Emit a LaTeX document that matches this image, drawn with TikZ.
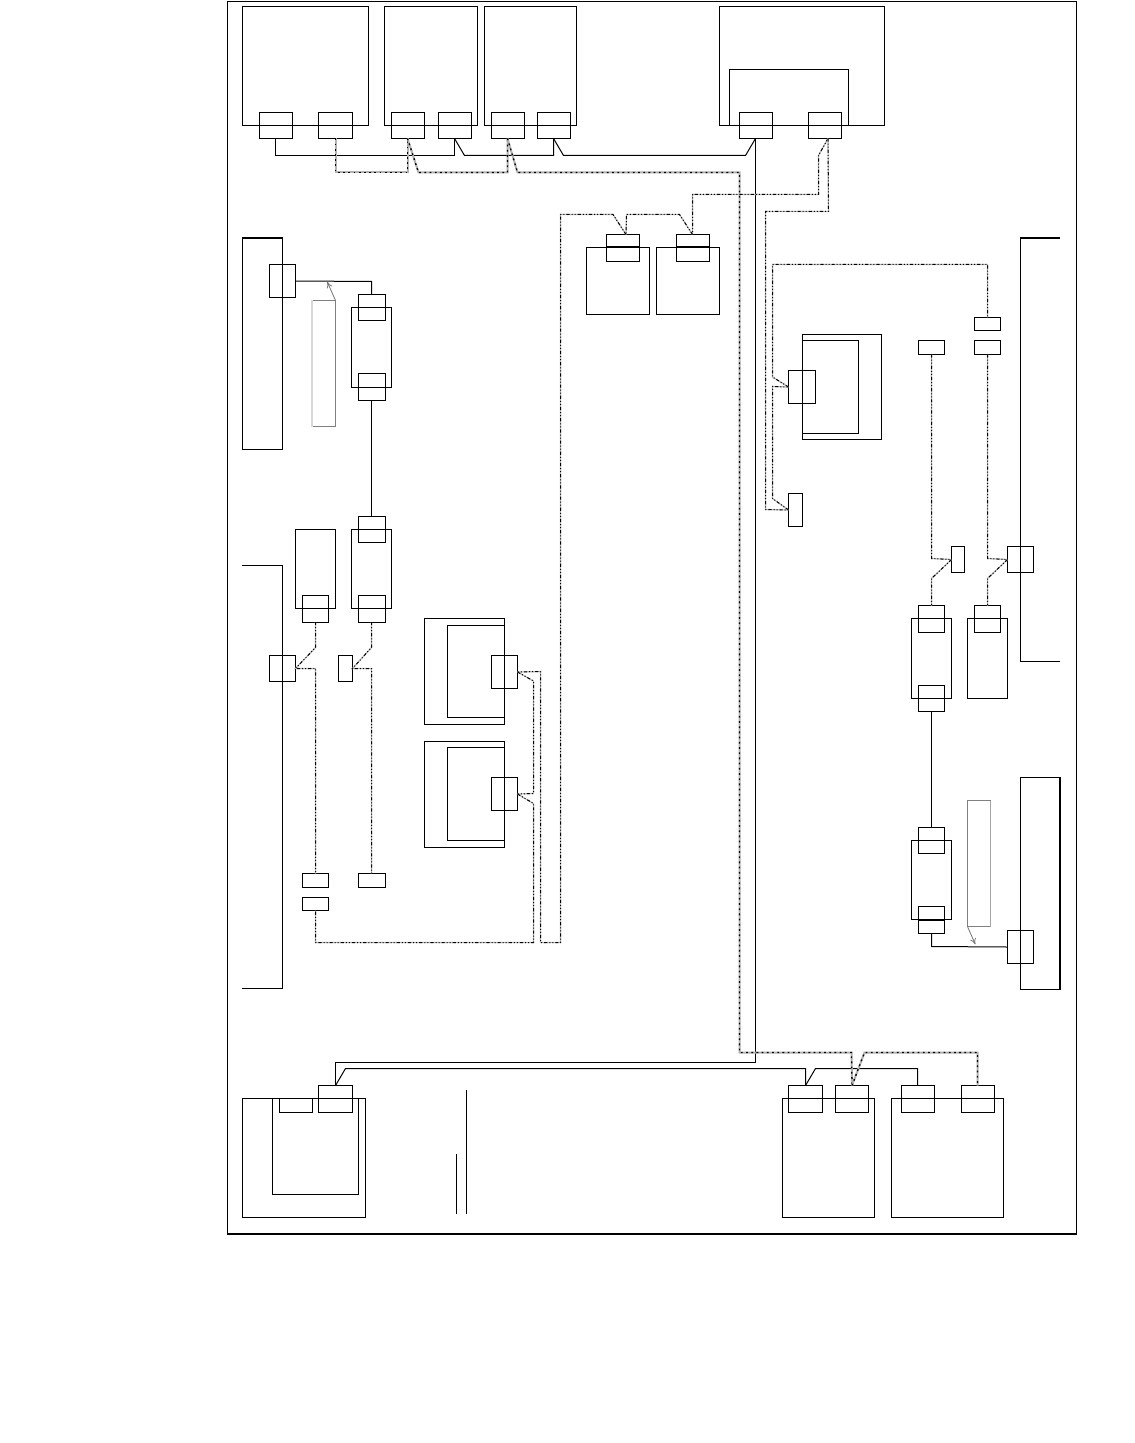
\documentclass[tikz,border=0pt]{standalone}
\usetikzlibrary{arrows.meta,calc}
\tikzset{
  x=0.5pt,y=-0.5pt,
  box/.style={draw=black,line width=0.5pt,inner sep=0pt,outer sep=0pt,anchor=center},
  graybox/.style={draw=black!50,line width=0.5pt,inner sep=0pt,outer sep=0pt,anchor=center},
  shell/.style={draw=black,line width=0.5pt,line join=miter},
  heavyedge/.style={draw=black,line width=1pt},
  bus/.style={draw=black,line width=0.5pt,line join=miter},
  busdash/.style={preaction={draw=black!30,line width=1pt,solid},draw=black,line width=0.65pt,dash pattern=on 0.9pt off 1.7pt},
  ctrl/.style={preaction={draw=black!28,line width=0.6pt,solid},draw=black,line width=0.5pt,dash pattern=on 1.6pt off 1pt on 0.5pt off 1pt on 0.5pt off 1pt},
  note/.style={draw=black!55,line width=0.4pt,-{To[length=3pt,width=3pt]}},
  back/.style={xshift=-0.25pt},
  tap/.style={xshift=1.5pt}
}
% name, x1, y1, x2, y2 in reference pixels
\newcommand{\bx}[5]{\node[box,minimum width={(#4-#2)*0.5pt},minimum height={(#5-#3)*0.5pt}] (#1) at ({(#2+#4)/2},{(#3+#5)/2}) {};}
\newcommand{\gbx}[5]{\node[graybox,minimum width={(#4-#2)*0.5pt},minimum height={(#5-#3)*0.5pt}] (#1) at ({(#2+#4)/2},{(#3+#5)/2}) {};}
\begin{document}
\begin{tikzpicture}
\useasboundingbox (0,0) rectangle (1134,1443);
\fill[white] (0,0) rectangle (1134,1443);
% frame
\bx{frame}{227.5}{1.5}{1076.5}{1234}
\draw[heavyedge] (frame.south west) -- (frame.south east);
% top units
\bx{A}{242.5}{6.5}{368.5}{125.5}
\bx{Aa}{259.5}{112.5}{292.5}{138.5}
\bx{Ab}{318.5}{112.5}{352.5}{138.5}
\bx{B}{384.5}{6.5}{477.5}{125.5}
\bx{Ba}{391.5}{112.5}{424.5}{138.5}
\bx{Bb}{438.5}{112.5}{471.5}{138.5}
\bx{C}{484.5}{6.5}{576.5}{125.5}
\bx{Ca}{491.5}{112.5}{524.5}{138.5}
\bx{Cb}{537.5}{112.5}{570.5}{138.5}
\bx{D}{719.5}{6.5}{884.5}{125.5}
\bx{Di}{729.5}{69.5}{848.5}{125.5}
\bx{Da}{739.5}{112.5}{772.5}{138.5}
\bx{Db}{808.5}{112.5}{841.5}{138.5}
% upper middle units
\bx{E}{586.5}{247.5}{649.5}{314.5}
\bx{Ea}{606.5}{234.5}{639.5}{261.5}
\bx{F}{656.5}{247.5}{719.5}{314.5}
\bx{Fa}{676.5}{234.5}{709.5}{261.5}
\draw[heavyedge] (Ea.west |- E.north) -- (Ea.east |- E.north);
\draw[heavyedge] (Fa.west |- F.north) -- (Fa.east |- F.north);
% upper left
\bx{L}{242.5}{238}{282.5}{449.5}
\draw[heavyedge] (L.north west) -- (L.north east);
\bx{La}{269.5}{264.5}{295.5}{297.5}
\gbx{LG}{312}{300.5}{335.5}{426.5}
\draw[draw=black!15,line width=0.7pt] (LG.north west) -- (LG.south west);
\coordinate (LGtip) at (327.3,282);
\draw[note] (LG.north east) -- (LGtip);
\bx{M}{351.5}{307.5}{391.5}{387.5}
\bx{Ma}{358.5}{294.5}{385.5}{320.5}
\bx{Mb}{358.5}{373.5}{385.5}{400.5}
% lower left
\draw[shell] (242,565.5) -- (282.5,565.5) -- (282.5,988.5) -- (242,988.5);
\bx{J}{295.5}{529.5}{335.5}{608.5}
\bx{Ja}{302.5}{595.5}{328.5}{622}
\bx{K}{351.5}{529.5}{391.5}{608.5}
\bx{Ka}{358.5}{516.5}{385.5}{542.5}
\bx{Kb}{358.5}{595.5}{385.5}{622}
\bx{H}{269.5}{655.5}{295.5}{681.5}
\bx{I}{338.5}{655.5}{352.5}{681.5}
\bx{Pa}{302.5}{873.5}{328.5}{887.5}
\bx{Pb}{302.5}{897.5}{328.5}{910.5}
\bx{Pc}{358.5}{873.5}{385.5}{887.5}
\bx{G}{424.5}{618.5}{504.5}{724.5}
\bx{Gi}{447.5}{625.5}{504.5}{717.5}
\bx{Ga}{491.5}{655.5}{517.5}{688.5}
\bx{W}{424.5}{741.5}{504.5}{847.5}
\bx{Wi}{447.5}{747.5}{504.5}{840.5}
\bx{Wa}{491.5}{777.5}{517.5}{810.5}
% right middle
\draw[shell] (1060,661.5) -- (1020.5,661.5) -- (1020.5,238.5);
\draw[heavyedge] (1020,238.5) -- (1060,238.5);
\bx{N}{802.5}{334.5}{881.5}{439.5}
\bx{Ni}{802.5}{340.5}{858.5}{433.5}
\bx{Na}{788.5}{370.5}{815.5}{403.5}
\bx{Y}{788.5}{493.5}{802.5}{526.5}
\bx{Ra}{974.5}{317.5}{1000.5}{330.5}
\bx{Rb}{974.5}{340.5}{1000.5}{354.5}
\bx{Rc}{918.5}{340.5}{944.5}{354.5}
\bx{O}{951.5}{546.5}{964.5}{572.5}
\bx{Pp}{1007.5}{546.5}{1033.5}{572.5}
\bx{Q}{911.5}{618.5}{951.5}{698.5}
\bx{Qa}{918.5}{605.5}{944.5}{632.5}
\bx{Qb}{918.5}{685.5}{944.5}{711.5}
\bx{R}{967.5}{618.5}{1007.5}{698.5}
\bx{Rd}{974.5}{605.5}{1000.5}{632.5}
% lower right
\bx{S}{911.5}{840.5}{951.5}{919.5}
\bx{Sa}{918.5}{827.5}{944.5}{853.5}
\bx{Sb}{918.5}{906.5}{944.5}{933.5}
\draw[heavyedge] (Sb.west |- S.south) -- (Sb.east |- S.south);
\bx{T}{1020.5}{777.5}{1060}{989.5}
\draw[heavyedge] (T.north east) -- (T.south east);
\bx{Ta}{1007.5}{930.5}{1033.5}{963.5}
\gbx{TG}{967.5}{800.5}{990.5}{926.5}
\draw[draw=black!35,line width=0.5pt] (TG.north east) -- (TG.south east);
\coordinate (TGtip) at (975.3,944.3);
\draw[note] (TG.south west) -- (TGtip);
% bottom units
\bx{U}{242.5}{1098.5}{365.5}{1217.5}
\bx{Ui}{272.5}{1098.5}{358.5}{1194.5}
\bx{Ua}{279.5}{1098.5}{312.5}{1112.5}
\bx{Ub}{318.5}{1085.5}{352.5}{1112.5}
\bx{V}{782.5}{1098.5}{874.5}{1217.5}
\bx{Va}{788.5}{1085.5}{822.5}{1112.5}
\bx{Vb}{835.5}{1085.5}{868.5}{1112.5}
\bx{X}{891.5}{1098.5}{1003.5}{1217.5}
\bx{Xa}{901.5}{1085.5}{934.5}{1112.5}
\bx{Xb}{961.5}{1085.5}{994.5}{1112.5}
% two free rules
\coordinate (ruleAt) at (466.5,1090);
\coordinate (ruleAb) at (466.5,1214);
\coordinate (ruleBt) at (456.5,1154);
\coordinate (ruleBb) at (456.5,1214);
\draw[shell] (ruleAt) -- (ruleAb);
\draw[shell] (ruleBt) -- (ruleBb);
% solid bus, top chain
\draw[bus] ([back]Aa.south) -- (275.5,155.5) -- (454.5,155.5) -- ([back]Bb.south);
\draw[bus] ([back]Bb.south) -- (464.5,155.5) -- (553.5,155.5) -- ([back]Cb.south);
\draw[bus] ([back]Cb.south) -- (563.5,155.5) -- (745.5,155.5) -- ([back]Da.south);
\draw[bus] ([back]Da.south) -- (755.5,1062.5) -- (335.5,1062.5) -- (Ub.north);
\draw[bus] (Ub.north) -- (345.5,1068.5) -- (805.5,1068.5) -- (Va.north);
\draw[bus] (Va.north) -- (815.5,1068.5) -- (917.5,1068.5) -- ([back]Xa.north);
% solid links
\draw[bus] (La.east) -- (371.5,281.5) -- ([back]Ma.north);
\draw[bus] ([back]Mb.south) -- ([back]Ka.north);
\draw[bus] (Qb.south) -- (Sa.north);
\draw[bus] (Sb.south) -- (931.5,946.5) -- (Ta.west);
% heavy dashed bus
\draw[busdash] (Ab.south) -- (335.5,172.5) -- (407.5,172.5) -- ([back]Ba.south);
\draw[busdash] ([back]Ba.south) -- (418.5,172.5) -- (507.5,172.5) -- ([back]Ca.south);
\draw[busdash] ([back]Ca.south) -- (517.5,172.5) -- (739.5,172.5) -- (739.5,1052.5) -- (851.5,1052.5) -- (Vb.north);
\draw[busdash] (Vb.north) -- (864.5,1052.5) -- (977.5,1052.5) -- ([back]Xb.north);
% control lines
\draw[ctrl] ([tap]Db.south) -- (818.5,155.5) -- (818.5,194.5) -- (692.5,194.5) -- ([back]Fa.north);
\draw[ctrl] ([back]Fa.north) -- (679.5,214.5) -- (626.5,214.5) -- ([tap]Ea.north);
\draw[ctrl] ([tap]Ea.north) -- (613,214.5) -- (560.5,214.5) -- (560.5,942.5) -- (540.5,942.5) -- (540.5,671.5) -- (Ga.east);
\draw[ctrl] (Ga.east) -- (533.5,681) -- (533.5,793.5) -- (Wa.east);
\draw[ctrl] (Wa.east) -- (533.5,803.5) -- (533.5,942.5) -- (315.5,942.5) -- (Pb.south);
\draw[ctrl] ([tap]Db.south) -- (828.5,211.5) -- (765.5,211.5) -- (765.5,509.5) -- (Y.west);
\draw[ctrl] (Y.west) -- (772.5,498.5) -- (772.5,386.5) -- (Na.west);
\draw[ctrl] (Na.west) -- (772.5,377) -- (772.5,264.5) -- (987.5,264.5) -- (Ra.north);
\draw[ctrl] (Rc.south) -- (931.5,558.5) -- (O.west);
\draw[ctrl] (O.west) -- (931.5,578.5) -- (Qa.north);
\draw[ctrl] (Rb.south) -- (987.5,558.5) -- (Pp.west);
\draw[ctrl] (Pp.west) -- (987.5,578.5) -- (Rd.north);
\draw[ctrl] (Ja.south) -- (315.5,647.5) -- (295.5,668.5) -- (315.5,668.5) -- (Pa.north);
\draw[ctrl] ([back]Kb.south) -- (371.5,647.5) -- (352.5,668.5) -- (371.5,668.5) -- ([back]Pc.north);
\end{tikzpicture}
\end{document}
